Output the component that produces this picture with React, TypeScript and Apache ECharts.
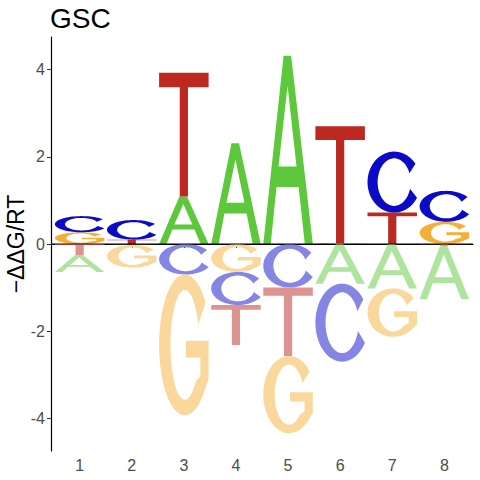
import React, { useEffect, useRef } from "react";
import * as echarts from "echarts";

// ---- data ----
const POSITIONS = [1, 2, 3, 4, 5, 6, 7, 8];
const LETTERS = ["A", "C", "G", "T"];
const A_VALS = [-0.39, -0.02, 1.09, 2.31, 4.32, -0.91, -1.02, -1.21];
const C_VALS = [0.37, 0.45, -0.7, -0.76, -1.0, -1.79, 1.4, 0.71];
const G_VALS = [0.27, -0.52, -3.23, -0.64, -1.77, 0.02, -1.11, 0.51];
const T_VALS = [-0.25, 0.1, 2.84, -0.92, -1.57, 2.68, 0.72, -0.05];
const Y_TICKS = [-4, -2, 0, 2, 4];
const TITLE = "GSC";
const Y_NAME = "\u2212\u0394\u0394G/RT";

const COLORS = ["#5DC83B", "#0B0BC6", "#F4AF37", "#BB2921"];
const LETTER_W = 0.95;
const FONT = "'Liberation Sans', Arial, Helvetica, sans-serif";

// ---- glyph outlines (unit box, y down) ----
type Pt = [number, number];
function arc(cx: number, cy: number, rx: number, ry: number, a0: number, a1: number, n: number): Pt[] {
  const pts: Pt[] = [];
  for (let i = 0; i <= n; i++) {
    const a = ((a0 + (a1 - a0) * (i / n)) * Math.PI) / 180;
    pts.push([cx + rx * Math.cos(a), cy - ry * Math.sin(a)]);
  }
  return pts;
}
function normalize(contours: Pt[][]): Pt[][] {
  let x0 = Infinity, x1 = -Infinity, y0 = Infinity, y1 = -Infinity;
  contours.forEach((c) => c.forEach(([x, y]) => {
    x0 = Math.min(x0, x); x1 = Math.max(x1, x); y0 = Math.min(y0, y); y1 = Math.max(y1, y);
  }));
  return contours.map((c) => c.map(([x, y]) => [(x - x0) / (x1 - x0), (y - y0) / (y1 - y0)] as Pt));
}
function toPath(contours: Pt[][]): string {
  return contours
    .map((c) => c.map(([x, y], i) => (i === 0 ? "M" : "L") + (x * 100).toFixed(2) + " " + (y * 100).toFixed(2)).join(" ") + " Z")
    .join(" ");
}

const GLYPH_A: Pt[][] = [
  [[0, 1], [0.41, 0], [0.563, 0], [1, 1], [0.839, 1], [0.714, 0.697], [0.267, 0.697], [0.15, 1]],
  [[0.308, 0.589], [0.671, 0.589], [0.49, 0.16]],
];
const GLYPH_C: Pt[][] = [
  arc(0.5, 0.5, 0.5, 0.5, 37, 329, 60).concat(arc(0.5, 0.5, 0.31, 0.39, 344, 22, 50)),
];
const GLYPH_G: Pt[][] = [
  arc(0.5, 0.5, 0.5, 0.5, 37, 320, 60)
    .concat([[0.96, 0.74], [0.96, 0.47], [0.52, 0.47], [0.52, 0.59], [0.8, 0.59], [0.8, 0.72]] as Pt[])
    .concat(arc(0.5, 0.5, 0.28, 0.39, 318, 22, 50)),
];
const GLYPH_T: Pt[][] = [
  [[0, 0], [1, 0], [1, 0.118], [0.583, 0.118], [0.583, 1], [0.417, 1], [0.417, 0.118], [0, 0.118]],
];
const GLYPH_PATHS = [GLYPH_A, GLYPH_C, GLYPH_G, GLYPH_T].map((g) => toPath(normalize(g)));

function lighten(hex: string, t: number): string {
  const n = parseInt(hex.slice(1), 16);
  const r = (n >> 16) & 255, g = (n >> 8) & 255, b = n & 255;
  const m = (v: number) => Math.round(v + (255 - v) * t);
  return "rgb(" + m(r) + "," + m(g) + "," + m(b) + ")";
}

function buildStacks(): number[][] {
  const all = [A_VALS, C_VALS, G_VALS, T_VALS];
  const out: number[][] = [];
  POSITIONS.forEach((pos, i) => {
    const items = all.map((vals, li) => ({ li, v: vals[i] }));
    const pos_ = items.filter((d) => d.v > 0).sort((a, b) => a.v - b.v);
    const neg_ = items.filter((d) => d.v < 0).sort((a, b) => b.v - a.v);
    let acc = 0;
    pos_.forEach((d) => { out.push([pos, acc, acc + d.v, d.li, 0]); acc += d.v; });
    acc = 0;
    neg_.forEach((d) => { out.push([pos, acc + d.v, acc, d.li, 1]); acc += d.v; });
  });
  return out;
}

export default function App() {
  const ref = useRef<HTMLDivElement>(null);
  useEffect(() => {
    if (!ref.current) return;
    const chart = echarts.init(ref.current, null, { renderer: "svg" });
    const data = buildStacks();
    chart.setOption({
      animation: false,
      backgroundColor: "#ffffff",
      title: {
        text: TITLE,
        left: 50,
        top: 4,
        padding: 0,
        textStyle: { fontSize: 28, fontWeight: "normal", color: "#000", fontFamily: FONT },
      },
      grid: { left: 51, right: 7, top: 37, bottom: 29, containLabel: false },
      xAxis: {
        type: "value",
        min: 0.45,
        max: 8.55,
        splitLine: { show: false },
        axisLine: { show: true, lineStyle: { color: "#000", width: 1.2 } },
        axisTick: { show: true, length: 4, lineStyle: { color: "#333" }, customValues: POSITIONS },
        axisLabel: { color: "#4D4D4D", fontSize: 16, fontFamily: FONT, margin: 6, customValues: POSITIONS },
      },
      yAxis: {
        type: "value",
        min: -4.75,
        max: 4.75,
        splitLine: { show: false },
        axisLine: { show: true, lineStyle: { color: "#000", width: 1.2 } },
        axisTick: { show: true, length: 4, lineStyle: { color: "#333" }, customValues: Y_TICKS },
        axisLabel: { color: "#4D4D4D", fontSize: 16, fontFamily: FONT, margin: 6, customValues: Y_TICKS },
      },
      graphic: [
        {
          type: "text",
          x: 16,
          y: 244,
          rotation: Math.PI / 2,
          style: { text: Y_NAME, align: "center", verticalAlign: "middle", font: "23px " + FONT, fill: "#000" },
        },
      ],
      series: [
        {
          type: "custom",
          data,
          encode: { x: 0, y: [1, 2] },
          renderItem: (params: any, api: any) => {
            const x = api.value(0);
            const lo = api.value(1);
            const hi = api.value(2);
            const li = api.value(3);
            const neg = api.value(4);
            const tl = api.coord([x - LETTER_W / 2, hi]);
            const br = api.coord([x + LETTER_W / 2, lo]);
            const w = br[0] - tl[0];
            const h = Math.max(br[1] - tl[1], 0.05);
            return {
              type: "path",
              shape: { pathData: GLYPH_PATHS[li], x: tl[0], y: tl[1], width: w, height: h, layout: "cover" },
              style: { fill: neg ? lighten(COLORS[li], 0.5) : COLORS[li] },
            };
          },
        },
        {
          type: "line",
          data: [[0.45, 0], [8.55, 0]],
          symbol: "none",
          silent: true,
          z: 5,
          lineStyle: { color: "#000", width: 1.1 },
        },
      ],
    });
    return () => chart.dispose();
  }, []);
  return <div ref={ref} style={{ position: "absolute", left: 0, top: 0, width: 480, height: 480 }} />;
}
